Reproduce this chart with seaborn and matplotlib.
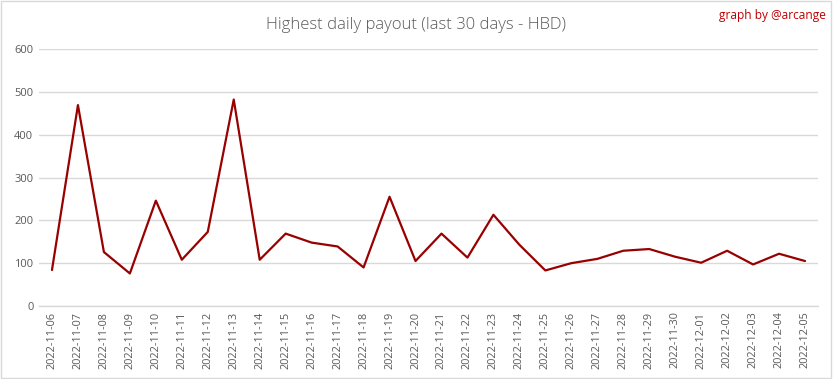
import matplotlib
matplotlib.use("Agg")
import matplotlib.pyplot as plt
import seaborn as sns
import pandas as pd
from matplotlib.patches import Rectangle

dates = ["2022-11-06", "2022-11-07", "2022-11-08", "2022-11-09", "2022-11-10",
         "2022-11-11", "2022-11-12", "2022-11-13", "2022-11-14", "2022-11-15",
         "2022-11-16", "2022-11-17", "2022-11-18", "2022-11-19", "2022-11-20",
         "2022-11-21", "2022-11-22", "2022-11-23", "2022-11-24", "2022-11-25",
         "2022-11-26", "2022-11-27", "2022-11-28", "2022-11-29", "2022-11-30",
         "2022-12-01", "2022-12-02", "2022-12-03", "2022-12-04", "2022-12-05"]
payout = [84, 469, 126, 76, 246, 108, 173, 482, 108, 169,
          148, 139, 90, 255, 105, 169, 113, 213, 143, 83,
          100, 110, 129, 133, 115, 101, 129, 97, 122, 105]
yticks = [0, 100, 200, 300, 400, 500, 600]

sns.set_theme(style="white")
plt.rcParams['font.family'] = ['Open Sans', 'DejaVu Sans']

df = pd.DataFrame({"date": dates, "payout": payout, "x": range(len(dates))})

fig = plt.figure(figsize=(8.33, 3.79), dpi=100)
ax = fig.add_axes([0.0468, 0.1926, 0.9352, 0.6781])

sns.lineplot(data=df, x="x", y="payout", ax=ax, color="#990000", linewidth=1.6)

ax.set_xlim(-0.5, len(dates) - 0.5)
ax.set_ylim(0, 600)
ax.set_yticks(yticks)
ax.set_yticklabels([str(v) for v in yticks], fontsize=8, color="#595959")
ax.set_xticks(range(len(dates)))
ax.set_xticklabels(dates, rotation=90, fontsize=7.8, color="#595959")
ax.tick_params(axis="both", length=0, pad=4)
ax.yaxis.grid(True, color="#d9d9d9", linewidth=1)
ax.xaxis.grid(False)
for s in ["top", "right", "left"]:
    ax.spines[s].set_visible(False)
ax.spines["bottom"].set_color("#d9d9d9")
ax.spines["bottom"].set_linewidth(1)
ax.set_xlabel("")
ax.set_ylabel("")

fig.text(0.5, 0.935, "Highest daily payout (last 30 days - HBD)", ha="center", va="center",
         fontsize=12, color="#595959", fontweight="light")
fig.text(0.992, 0.958, "graph by @arcange", ha="right", va="center",
         fontsize=8.6, color="#c00000")

fig.patches.append(Rectangle((0.001, 0.002), 0.997, 0.995, transform=fig.transFigure,
                             fill=False, edgecolor="#d9d9d9", linewidth=1))

fig.savefig("out.png", dpi=100)
